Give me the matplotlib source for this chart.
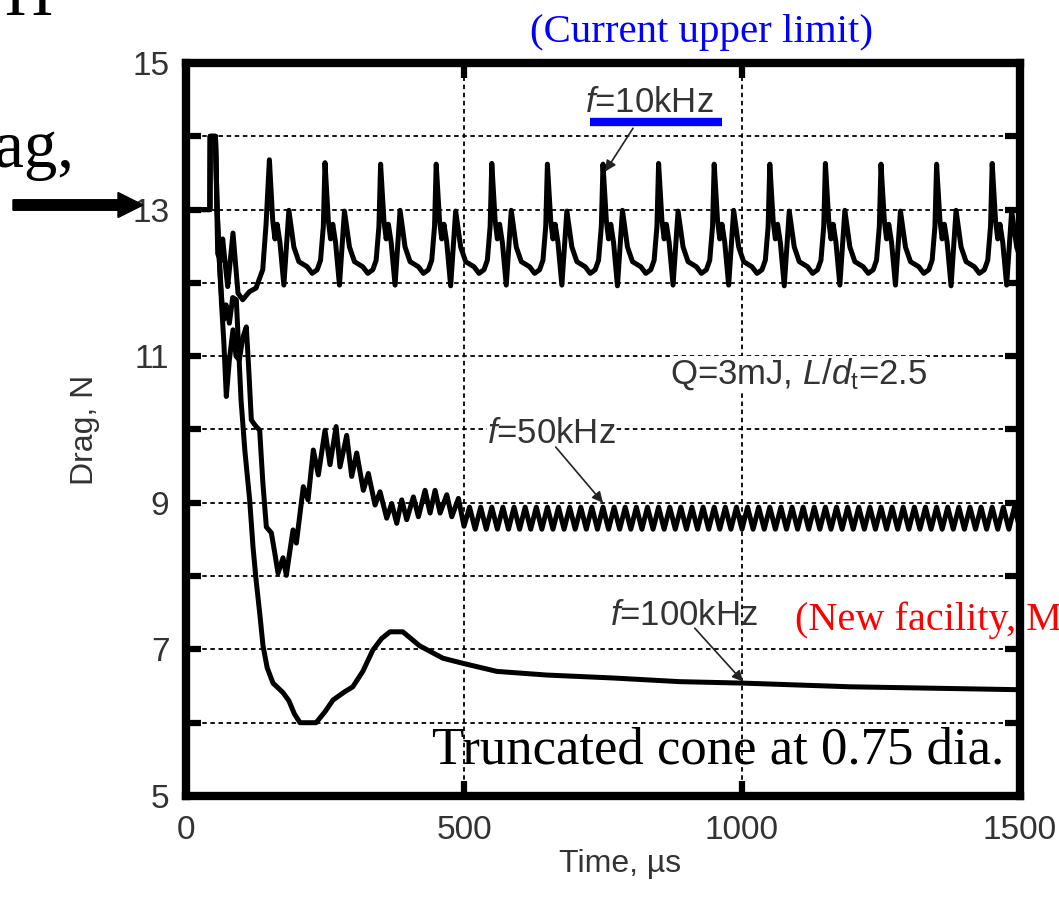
import matplotlib
matplotlib.use("Agg")
import matplotlib.pyplot as plt
from matplotlib.patches import FancyArrow

# ---------------------------------------------------------------- data
# Drag history for three pulse frequencies (time in us, drag in N)
t_10k = [0, 43, 43.5, 53, 55, 57, 62, 66, 70, 75, 84.5, 93.5, 102, 114, 126, 138, 144,
         150, 156, 160, 164, 169, 176, 185, 194, 203, 218, 227, 236, 242, 247,
         250, 256, 260, 264, 269, 276, 285, 294, 303, 318, 327, 336, 342, 347,
         350, 356, 360, 364, 369, 376, 385, 394, 403, 418, 427, 436, 442, 447,
         450, 456, 460, 464, 469, 476, 485, 494, 503, 518, 527, 536, 542, 547,
         550, 556, 560, 564, 569, 576, 585, 594, 603, 618, 627, 636, 642, 647,
         650, 656, 660, 664, 669, 676, 685, 694, 703, 718, 727, 736, 742, 747,
         750, 756, 760, 764, 769, 776, 785, 794, 803, 818, 827, 836, 842, 847,
         850, 856, 860, 864, 869, 876, 885, 894, 903, 918, 927, 936, 942, 947,
         950, 956, 960, 964, 969, 976, 985, 994, 1003, 1018, 1027, 1036, 1042, 1047,
         1050, 1056, 1060, 1064, 1069, 1076, 1085, 1094, 1103, 1118, 1127, 1136, 1142, 1147,
         1150, 1156, 1160, 1164, 1169, 1176, 1185, 1194, 1203, 1218, 1227, 1236, 1242, 1247,
         1250, 1256, 1260, 1264, 1269, 1276, 1285, 1294, 1303, 1318, 1327, 1336, 1342, 1347,
         1350, 1356, 1360, 1364, 1369, 1376, 1385, 1394, 1403, 1418, 1427, 1436, 1442, 1447,
         1450, 1456, 1460, 1464, 1469, 1476, 1485, 1494, 1500]
d_10k = [13.0, 13.0, 14.0, 14.0, 13.2, 12.4, 12.3, 12.6, 12.3, 11.95, 12.68, 11.86, 11.77, 11.88, 11.93, 12.18, 12.8,
         13.68, 12.85, 12.6, 12.8, 12.55, 11.97, 12.99, 12.49, 12.29, 12.22, 12.13, 12.18, 12.31, 12.77,
         13.64, 12.85, 12.6, 12.8, 12.55, 11.97, 12.98, 12.49, 12.29, 12.22, 12.13, 12.18, 12.31, 12.77,
         13.62, 12.85, 12.6, 12.8, 12.55, 11.97, 12.99, 12.49, 12.29, 12.22, 12.13, 12.18, 12.31, 12.77,
         13.62, 12.85, 12.6, 12.8, 12.55, 11.96, 12.98, 12.49, 12.29, 12.22, 12.13, 12.18, 12.31, 12.77,
         13.63, 12.85, 12.6, 12.8, 12.55, 11.97, 12.99, 12.49, 12.29, 12.22, 12.13, 12.18, 12.31, 12.77,
         13.62, 12.85, 12.6, 12.8, 12.55, 11.97, 12.98, 12.49, 12.29, 12.22, 12.13, 12.18, 12.31, 12.77,
         13.62, 12.85, 12.6, 12.8, 12.55, 11.96, 12.99, 12.49, 12.29, 12.22, 12.13, 12.18, 12.31, 12.77,
         13.63, 12.85, 12.6, 12.8, 12.55, 11.97, 12.98, 12.49, 12.29, 12.22, 12.13, 12.18, 12.31, 12.77,
         13.62, 12.85, 12.6, 12.8, 12.55, 11.97, 12.99, 12.49, 12.29, 12.22, 12.13, 12.18, 12.31, 12.77,
         13.62, 12.85, 12.6, 12.8, 12.55, 11.96, 12.98, 12.49, 12.29, 12.22, 12.13, 12.18, 12.31, 12.77,
         13.63, 12.85, 12.6, 12.8, 12.55, 11.97, 12.99, 12.49, 12.29, 12.22, 12.13, 12.18, 12.31, 12.77,
         13.62, 12.85, 12.6, 12.8, 12.55, 11.97, 12.98, 12.49, 12.29, 12.22, 12.13, 12.18, 12.31, 12.77,
         13.62, 12.85, 12.6, 12.8, 12.55, 11.96, 12.99, 12.49, 12.29, 12.22, 12.13, 12.18, 12.31, 12.77,
         13.63, 12.85, 12.6, 12.8, 12.55, 11.97, 12.98, 12.49, 12.35]

t_50k = [0, 43, 43.5, 53, 56, 60, 64, 68, 72.5, 78, 84.5, 90, 96, 102, 108.5, 113, 117.5, 125,
         132.5, 138, 144.5, 153.5, 160, 165.5, 174.5, 180.5, 186, 192.5, 198.5, 205, 211, 219.5,
         229, 238, 250, 259, 270, 277, 289, 298, 307, 319, 328, 340, 349, 361, 370, 379, 388,
         397, 409, 418, 430, 439, 448, 457, 469, 478, 490, 500,
         510, 520, 530, 540, 550, 560, 570, 580, 590, 600,
         610, 620, 630, 640, 650, 660, 670, 680, 690, 700,
         710, 720, 730, 740, 750, 760, 770, 780, 790, 800,
         810, 820, 830, 840, 850, 860, 870, 880, 890, 900,
         910, 920, 930, 940, 950, 960, 970, 980, 990, 1000,
         1010, 1020, 1030, 1040, 1050, 1060, 1070, 1080, 1090, 1100,
         1110, 1120, 1130, 1140, 1150, 1160, 1170, 1180, 1190, 1200,
         1210, 1220, 1230, 1240, 1250, 1260, 1270, 1280, 1290, 1300,
         1310, 1320, 1330, 1340, 1350, 1360, 1370, 1380, 1390, 1400,
         1410, 1420, 1430, 1440, 1450, 1460, 1470, 1480, 1490, 1500]
d_50k = [13.0, 13.0, 14.0, 14.0, 13.0, 12.3, 11.7, 11.2, 10.45, 10.95, 11.36, 11.0, 10.95, 11.25, 11.4, 10.8, 10.13, 10.05,
         9.99, 9.3, 8.67, 8.59, 8.3, 8.04, 8.25, 8.01, 8.3, 8.63, 8.45, 8.85, 9.22, 9.04,
         9.72, 9.38, 9.99, 9.52, 10.04, 9.49, 9.92, 9.36, 9.68, 9.17, 9.40, 8.97, 9.15, 8.79, 8.99, 8.72, 9.04,
         8.77, 9.08, 8.81, 9.17, 8.86, 9.17, 8.86, 9.11, 8.81, 9.06, 8.68,
         8.94, 8.64, 8.94, 8.64, 8.94, 8.64, 8.94, 8.64, 8.94, 8.64,
         8.94, 8.64, 8.94, 8.64, 8.94, 8.64, 8.94, 8.64, 8.94, 8.64,
         8.94, 8.64, 8.94, 8.64, 8.94, 8.64, 8.94, 8.64, 8.94, 8.64,
         8.94, 8.64, 8.94, 8.64, 8.94, 8.64, 8.94, 8.64, 8.94, 8.64,
         8.94, 8.64, 8.94, 8.64, 8.94, 8.64, 8.94, 8.64, 8.94, 8.64,
         8.94, 8.64, 8.94, 8.64, 8.94, 8.64, 8.94, 8.64, 8.94, 8.64,
         8.94, 8.64, 8.94, 8.64, 8.94, 8.64, 8.94, 8.64, 8.94, 8.64,
         8.94, 8.64, 8.94, 8.64, 8.94, 8.64, 8.94, 8.64, 8.94, 8.64,
         8.94, 8.64, 8.94, 8.64, 8.94, 8.64, 8.94, 8.64, 8.94, 8.64,
         8.94, 8.64, 8.94, 8.64, 8.94, 8.64, 8.94, 8.64, 8.94, 8.64]

t_100k = [0, 43, 43.5, 53, 56, 60, 64, 68, 72, 78, 84, 90.5, 99, 106, 114.5, 120.5, 126, 132.5,
          138.5, 146, 156.5, 174.5, 185, 195, 205, 234, 250, 264.5, 285, 300, 318, 336, 352,
          367, 390, 420, 462, 498, 559, 649, 768, 888, 1002, 1194, 1500]
d_100k = [13.0, 13.0, 14.0, 14.0, 13.0, 12.3, 11.8, 11.5, 11.7, 11.45, 11.8, 11.77, 10.40, 9.7, 9.04, 8.4, 7.95, 7.5,
          7.05, 6.75, 6.54, 6.41, 6.3, 6.12, 6.0, 6.0, 6.15, 6.31, 6.42, 6.49, 6.7, 6.99, 7.15,
          7.24, 7.24, 7.05, 6.88, 6.81, 6.70, 6.65, 6.61, 6.56, 6.54, 6.49, 6.45]

x_ticks = [0, 500, 1000, 1500]
y_ticks = [5, 7, 9, 11, 13, 15]
y_minor = [6, 8, 10, 12, 14]

# ---------------------------------------------------------------- style
plt.rcParams["font.family"] = ["Liberation Sans", "DejaVu Sans"]
plt.rcParams["mathtext.fontset"] = "custom"
plt.rcParams["mathtext.rm"] = "Liberation Sans"
plt.rcParams["mathtext.it"] = "Liberation Sans:italic"
plt.rcParams["mathtext.default"] = "regular"

TXT = "#333333"
SERIF = ["Liberation Serif", "DejaVu Serif"]

fig = plt.figure(figsize=(10.59, 9.05), dpi=100)
ax = fig.add_axes([186 / 1059, 109 / 905, 834 / 1059, 733 / 905])

for t, d in ((t_10k, d_10k), (t_50k, d_50k), (t_100k, d_100k)):
    ax.plot(t, d, color="black", lw=3.6, solid_joinstyle="round", zorder=3)

ax.set_xlim(0, 1500)
ax.set_ylim(5, 15)
ax.set_xticks(x_ticks)
ax.set_yticks(y_ticks)
ax.set_yticks(y_minor, minor=True)
ax.tick_params(which="both", direction="in", length=11, width=4.5,
               top=True, right=True, labelsize=24, labelcolor=TXT)
ax.tick_params(axis="y", pad=12)
ax.tick_params(axis="x", pad=14)
for s in ax.spines.values():
    s.set_linewidth(6)

grid_kw = dict(color="black", lw=1.3, linestyle=(0, (2.5, 2.0)))
ax.yaxis.grid(True, which="both", **grid_kw)
ax.xaxis.grid(True, which="major", **grid_kw)
ax.set_axisbelow(True)

ax.set_xlabel("Time, µs", fontsize=23, color=TXT, va="top")
ax.xaxis.set_label_coords(0.52, -0.072)
ax.set_ylabel("Drag, N", fontsize=23, color=TXT)
ax.yaxis.set_label_coords(-0.103, 0.5)

# ---------------------------------------------------------------- annotations
arrow_kw = dict(arrowstyle="-|>", color="#222222", lw=1.2, mutation_scale=16,
                shrinkA=0, shrinkB=0)
ax.text(718, 14.33, r"$\mathit{f}$=10kHz", fontsize=25, color=TXT, ha="left", va="baseline")
ax.annotate("", xy=(754, 13.52), xytext=(804, 14.11), arrowprops=arrow_kw)
ax.plot([727, 964], [14.2, 14.2], color="#0000ff", lw=6, solid_capstyle="butt",
        clip_on=False, zorder=4)

ax.text(541, 9.82, r"$\mathit{f}$=50kHz", fontsize=25, color=TXT, ha="left", va="baseline",
        bbox=dict(facecolor="white", edgecolor="none", pad=0))
ax.annotate("", xy=(750, 9.0), xytext=(665, 9.76), arrowprops=arrow_kw)

ax.text(762, 7.33, r"$\mathit{f}$=100kHz", fontsize=25, color=TXT, ha="left", va="baseline")
ax.annotate("", xy=(1002, 6.56), xytext=(915, 7.29), arrowprops=arrow_kw)

ax.text(870, 10.63, r"Q=3mJ, $\mathit{L/d}_{\mathrm{t}}$=2.5", fontsize=25, color=TXT,
        ha="left", va="baseline", bbox=dict(facecolor="white", edgecolor="none", pad=0))

# slide text around the chart
fig.text(432 / 1059, 1 - 763 / 905, "Truncated cone at 0.75 dia.", fontsize=38,
         family=SERIF, color="black", ha="left", va="baseline")
fig.text(530 / 1059, 1 - 42 / 905, "(Current upper limit)", fontsize=29.4,
         family=SERIF, color="#0000ff", ha="left", va="baseline")
fig.text(795 / 1059, 1 - 630 / 905, "(New facility, M", fontsize=29,
         family=SERIF, color="#ff0000", ha="left", va="baseline")
fig.text(74 / 1059, 1 - 167 / 905, "Drag,", fontsize=48, family=SERIF,
         color="black", ha="right", va="baseline")
fig.text(4 / 1059, 1 - 15 / 905, "H", fontsize=48, family=SERIF,
         color="black", ha="left", va="baseline")
fig.add_artist(FancyArrow(0.13, 7.0, 1.30, 0.0, width=0.105, head_width=0.25,
                          head_length=0.25, length_includes_head=True,
                          color="black", transform=fig.dpi_scale_trans))

fig.savefig("out.png", dpi=100)
